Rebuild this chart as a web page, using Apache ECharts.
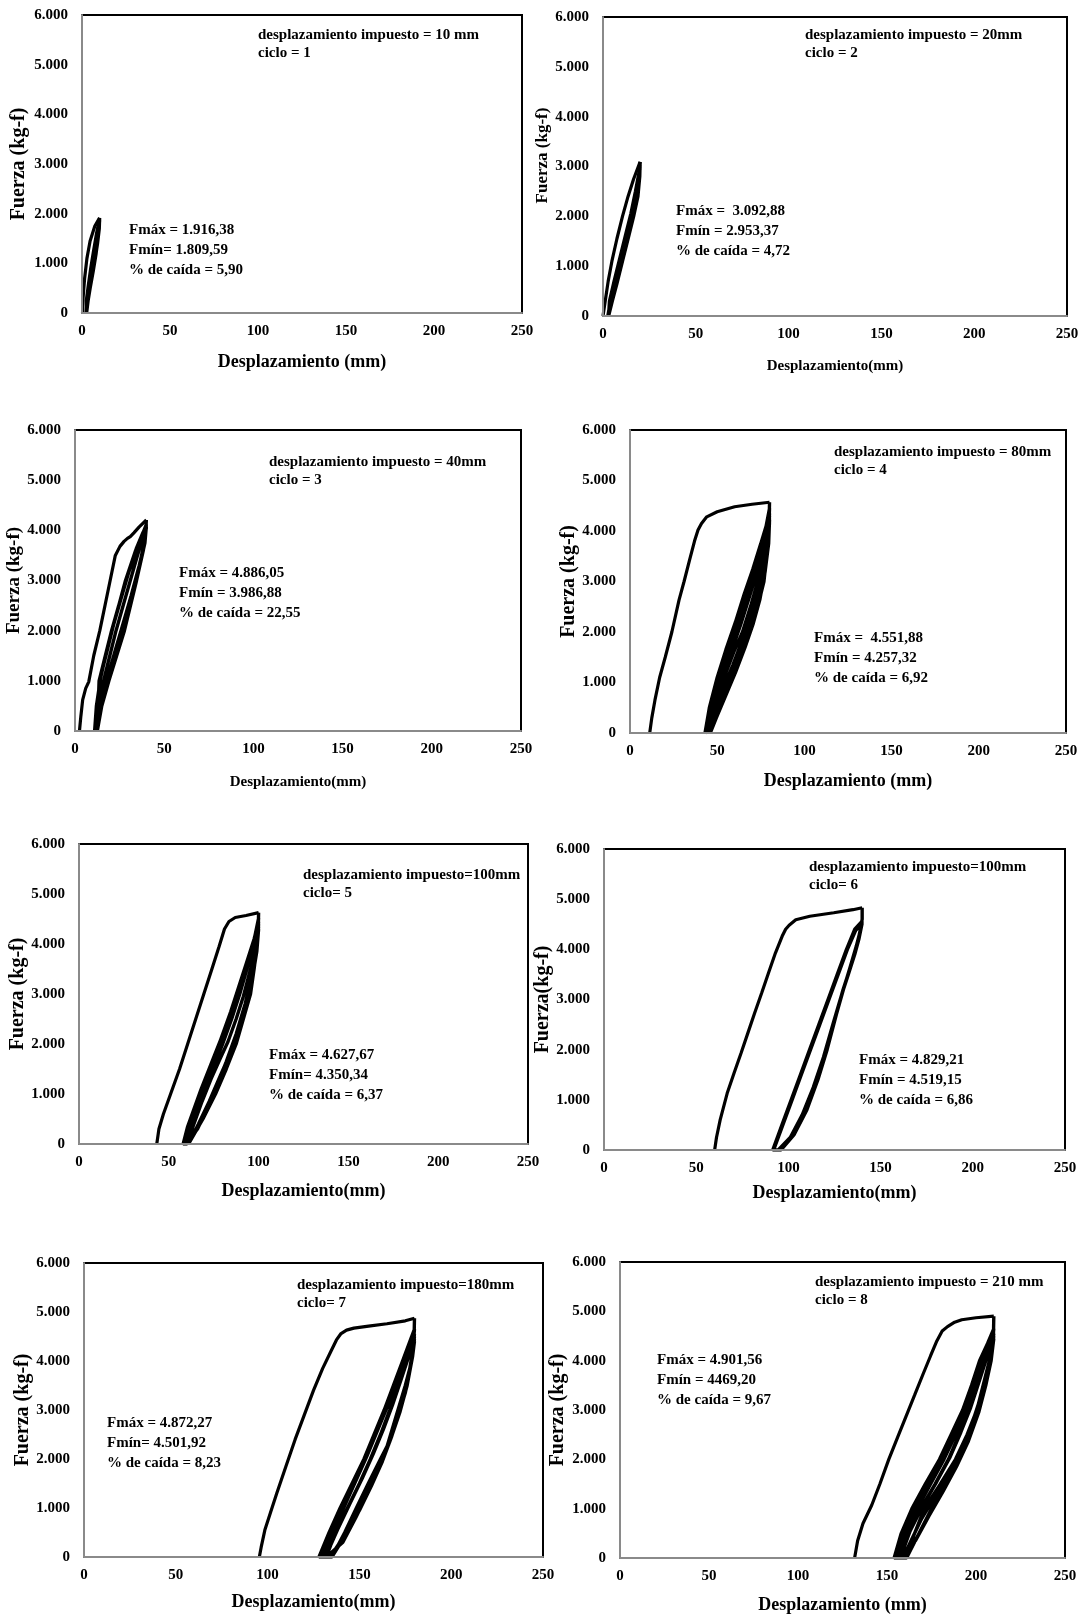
<!DOCTYPE html>
<html>
<head>
<meta charset="utf-8">
<script src="https://cdn.jsdelivr.net/npm/echarts@6/dist/echarts.min.js"></script>
<style>
html,body{margin:0;padding:0;background:#fff;}
#chart{width:1082px;height:1615px;}
</style>
</head>
<body>
<div id="chart"></div>
<script>
// ---------- Data (displacement mm, force kg-f) ----------
const xTickLabels = ['0','50','100','150','200','250'];
const yTickLabels = ['0','1.000','2.000','3.000','4.000','5.000','6.000'];

const xNames = ['Desplazamiento (mm)','Desplazamiento(mm)','Desplazamiento(mm)','Desplazamiento (mm)',
                'Desplazamiento(mm)','Desplazamiento(mm)','Desplazamiento(mm)','Desplazamiento (mm)'];
const yNames = ['Fuerza (kg-f)','Fuerza (kg-f)','Fuerza (kg-f)','Fuerza (kg-f)',
                'Fuerza (kg-f)','Fuerza(kg-f)','Fuerza (kg-f)','Fuerza (kg-f)'];

const headerNotes = [
  'desplazamiento impuesto = 10 mm\nciclo = 1',
  'desplazamiento impuesto = 20mm\nciclo = 2',
  'desplazamiento impuesto = 40mm\nciclo = 3',
  'desplazamiento impuesto = 80mm\nciclo = 4',
  'desplazamiento impuesto=100mm\nciclo= 5',
  'desplazamiento impuesto=100mm\nciclo= 6',
  'desplazamiento impuesto=180mm\nciclo= 7',
  'desplazamiento impuesto = 210 mm\nciclo = 8'
];
const forceNotes = [
  'Fmáx = 1.916,38\nFmín= 1.809,59\n% de caída = 5,90',
  'Fmáx =  3.092,88\nFmín = 2.953,37\n% de caída = 4,72',
  'Fmáx = 4.886,05\nFmín = 3.986,88\n% de caída = 22,55',
  'Fmáx =  4.551,88\nFmín = 4.257,32\n% de caída = 6,92',
  'Fmáx = 4.627,67\nFmín= 4.350,34\n% de caída = 6,37',
  'Fmáx = 4.829,21\nFmín = 4.519,15\n% de caída = 6,86',
  'Fmáx = 4.872,27\nFmín= 4.501,92\n% de caída = 8,23',
  'Fmáx = 4.901,56\nFmín = 4469,20\n% de caída = 9,67'
];

// Cycle 1 (10 mm)
const c1Envelope = [[0.3,0],[0.6,300],[1.5,700],[2.8,1100],[4.6,1450],[7.3,1750],[10,1916]];
const c1Loops = [[10,1916],[9.8,1700],[8.8,1400],[7.3,1050],[5.5,700],[3.8,350],[2.6,0],
  [1.8,0],[2.5,250],[3.6,550],[5,900],[6.6,1250],[8.3,1600],[9.6,1830],[10,1880],
  [9.6,1650],[8.5,1350],[7,1000],[5.2,650],[3.5,300],[2.3,0],
  [2,0],[3,350],[4.3,700],[5.8,1050],[7.5,1400],[9,1700],[10,1860],
  [9.3,1550],[8,1200],[6.4,850],[4.6,500],[3,150],[2.2,0]];

// Cycle 2 (20 mm)
const c2Envelope = [[0,0],[1.2,300],[2.8,700],[4.8,1100],[7.5,1550],[10.5,2000],[13.5,2400],[16.5,2750],[20,3093]];
const c2Loops = [[20,3093],[19.8,2800],[18.8,2400],[16.5,2000],[13.5,1550],[10.5,1100],[7.5,650],[5,300],[3,0],
  [2,0],[3.5,300],[6,700],[9,1150],[12,1600],[15,2050],[17.5,2500],[19.5,2900],[20,3030],
  [19.5,2750],[18.3,2350],[16,1950],[13,1500],[10,1050],[7,600],[4.5,250],[2.8,0],
  [2.2,0],[4,350],[6.5,750],[9.5,1200],[12.5,1650],[15.5,2100],[18,2550],[19.7,2950],[20,3000],
  [19.3,2700],[17.8,2300],[15.5,1900],[12.5,1450],[9.5,1000],[6.5,550],[4.2,200],[2.6,0],
  [2.4,0],[4.5,400],[7,800],[10,1250],[13,1700],[16,2150],[18.5,2600],[20,2960]];

// Cycle 3 (40 mm)
const c3Envelope = [[2.5,0],[3.3,300],[4.3,620],[6,850],[7.7,980],[10.5,1500],[13.9,2000],[16.8,2500],
  [19.7,3000],[22.6,3500],[25.2,3680],[27.5,3780],[29.4,3840],[31,3875],[33,3950],[36,4070],[40,4206]];
const c3Loops = [[40,4206],[39.5,3900],[38.3,3600],[34.5,3000],[27.7,2000],[19,1000],[15,500],[12.5,0],
  [12.8,300],[13.5,1000],[17,1500],[20.5,2000],[24.5,2500],[28.3,3000],[34,3600],[37,3850],[40,4120],
  [39,3800],[37.5,3500],[33.5,2900],[27,1950],[22,1400],[18.5,950],[14.5,450],[12,0],
  [12.6,400],[14,1000],[17.5,1550],[21,2050],[25,2550],[29,3050],[33.5,3500],[37.5,3900],[40,4080],
  [39.2,3750],[37,3400],[32.5,2800],[26.5,1900],[21,1300],[17.5,850],[14,400],[11,0],
  [12,500],[14.5,1100],[18,1600],[21.5,2100],[25.5,2600],[30,3150],[34.5,3650],[38,3950],[40,4050],
  [38.5,3700],[35.5,3200],[31,2600],[26,2000],[21,1400],[17,900],[14,450],[12,0],
  [13.5,500],[16,1000],[19.5,1500],[23,2000],[27,2500],[31,3000],[35,3500],[38.5,3900],[40,4060],
  [39,3750],[36,3300],[31.5,2700],[27,2150],[22.5,1600],[18.5,1100],[15,600],[12.5,150],[11.5,0]];

// Cycle 4 (80 mm)
const c4Envelope = [[11.3,0],[12.5,300],[14.3,650],[17,1100],[20.2,1500],[24,2000],[28.1,2630],[31,3000],
  [34.1,3420],[37,3800],[39,4020],[41,4150],[44,4280],[50,4380],[60,4480],[70,4530],[80,4570]];
const c4Loops = [[80,4570],[79.8,4200],[79,3700],[76.8,3000],[72.5,2400],[68.5,2000],[62,1500],[55,1000],[49.5,500],[45,0],
  [46,300],[49.5,1000],[54.5,1500],[60,2000],[64.5,2500],[69,3000],[73.5,3500],[77.5,4000],[80,4450],
  [79.5,4000],[78,3400],[75,2800],[70.5,2250],[65.5,1800],[59.5,1300],[53.5,800],[48,300],[44,0],
  [46.5,500],[51,1100],[56,1600],[61,2100],[65.5,2600],[70,3100],[74.5,3600],[78.5,4100],[80,4350],
  [79,3800],[77,3200],[73.5,2600],[68.5,2050],[63,1550],[57,1050],[51,550],[46,100],[43,0],
  [45.5,500],[50,1100],[55,1650],[60.5,2200],[65.5,2750],[70.5,3250],[75,3750],[78.5,4150],[80,4300],
  [78.5,3700],[76,3100],[72,2500],[67,1950],[61.5,1450],[55.5,950],[49.5,450],[44,0],
  [44.5,0],[47,500],[51.5,1050],[57,1600],[62.5,2100],[67.5,2650],[72,3150],[76,3650],[79,4100],[80,4250],
  [79,3900],[76.5,3350],[73,2800],[69,2300],[64.5,1850],[59,1350],[53,850],[48,400],[44.5,0],
  [45,0],[48.5,550],[53,1100],[58.5,1650],[63.5,2150],[68.5,2700],[73,3200],[76.5,3700],[79.5,4150],[80,4220],
  [79.5,3750],[77.5,3200],[74.5,2650],[70.5,2150],[66,1700],[60.5,1200],[55,750],[49.5,300],[46,0],
  [45.5,0],[49,550],[54,1100],[59.5,1600],[64.5,2000],[69.5,2550],[74,3100],[77.5,3600],[80,4150]];

// Cycle 5 (100 mm)
const c5Envelope = [[43.3,0],[44.5,300],[47,600],[51,1000],[56,1500],[60.5,2000],[65,2500],[69.5,3000],
  [74,3500],[78,3950],[81,4300],[83.5,4450],[87,4530],[93,4570],[100,4628]];
const c5Loops = [[100,4628],[99.8,4300],[99.3,4000],[97.5,3500],[95.5,3000],[91.5,2500],[87.5,2000],[82,1500],[76,1000],[69,500],[61,0],
  [62.5,300],[65.5,600],[69,1000],[74.5,1500],[80,2000],[85,2500],[89.5,3000],[93.5,3500],[97,4000],[100,4520],
  [99.3,4100],[97.8,3700],[95,3100],[91,2550],[86.5,2000],[81,1500],[75,1000],[68.5,500],[60,0],
  [58,0],[60.5,350],[64,700],[68,1100],[73.5,1600],[79,2100],[84.5,2650],[89,3150],[93.5,3650],[97.5,4100],[100,4450],
  [99,4000],[97,3500],[94,2950],[90,2400],[85,1850],[79.5,1350],[73.5,850],[66.5,350],[59,0],
  [61.5,350],[65,750],[69.5,1200],[75,1700],[80.5,2250],[85.5,2750],[90,3250],[94.5,3750],[98,4150],[100,4400],
  [99,3950],[97,3450],[93.5,2900],[89,2350],[84,1800],[78.5,1300],[72.5,800],[66,300],[59.5,0],
  [60,0],[63,400],[67,850],[72,1350],[77.5,1850],[83,2400],[88,2950],[92.5,3450],[96.5,3950],[100,4350],
  [98.8,3900],[96.5,3400],[92.5,2800],[87.5,2200],[82,1650],[76,1100],[69.5,600],[63,150],[60,0],
  [60.5,0],[64,400],[68.5,850],[73.5,1300],[78.5,1700],[83,2050],[87.5,2500],[91.5,2950],[95.5,3500],[98.5,4000],[100,4300],
  [99,3850],[96.5,3300],[93,2750],[89,2250],[84,1800],[78.5,1350],[72.5,850],[66.5,400],[61,0]];

// Cycle 6 (140 mm)
const c6Envelope = [[60,0],[61,250],[63,600],[66.8,1130],[70.5,1530],[74.3,1930],[78,2330],[81.7,2730],[85.5,3130],
  [89.2,3530],[93,3930],[96.6,4260],[98.5,4400],[100.4,4480],[104,4590],[111.6,4660],[124.6,4730],[135,4790],[140,4829]];
const c6Loops = [[140,4829],[140,4600],[138.5,4300],[136.8,4060],[133.5,3650],[130.3,3260],[126,2700],[121,2000],[116,1400],[110,800],[103,300],[96,0],
  [91.5,0],[96.5,500],[101.5,1000],[106.5,1500],[111.5,2000],[116.5,2500],[121.5,3000],[126.5,3500],[131.5,4000],[136,4400],[140,4560],
  [138.5,4250],[136.5,3980],[133,3580],[129.5,3180],[125.5,2650],[120,1950],[115,1350],[109,780],[102,280],[95,0],
  [92,0],[97,500],[102,1000],[107,1500],[112,2000],[117,2500],[122,3000],[127,3500],[132,4000],[136.5,4380],[140,4520],
  [138.2,4200],[136,3900],[132.5,3500],[128.5,3050],[124.5,2550],[119,1850],[113.5,1250],[107.5,700],[101,250],[94.5,0]];

// Cycle 7 (180 mm)
const c7Envelope = [[95.5,0],[96.5,200],[98.5,550],[101.5,900],[105,1300],[110,1850],[115,2400],[120,2900],[125,3400],
  [130,3850],[134.5,4200],[137.5,4430],[140,4560],[143,4630],[147,4670],[155,4710],[165,4760],[175,4820],[180,4872]];
const c7Loops = [[180,4872],[179.8,4500],[178.5,4000],[175,3500],[171,3000],[167,2500],[163,2000],[157,1500],[150,1000],[143,500],[134,0],
  [128,0],[133.5,500],[139.5,1000],[146,1500],[152.5,2000],[158,2500],[163.5,3000],[168.5,3500],[173.5,4000],[178,4450],[180,4650],
  [179,4200],[177,3750],[173,3200],[169,2700],[164.5,2200],[159,1700],[152.5,1200],[145.5,700],[138,200],[133,0],
  [129,0],[134.5,500],[140.5,1000],[147,1500],[153,2000],[158.5,2500],[164,3000],[169,3500],[174,4000],[178.5,4400],[180,4550],
  [178.5,4050],[176,3550],[172,3000],[167.5,2450],[162.5,1950],[156.5,1450],[150,950],[142.5,450],[135,0],
  [130,0],[136,550],[142,1050],[148,1550],[154,2050],[159.5,2550],[165,3050],[170,3550],[174.5,4000],[178.5,4380],[180,4500],
  [178,3900],[175,3350],[171,2850],[166,2300],[160.5,1800],[154.5,1300],[148,800],[141,300],[132,0],
  [131,0],[137,500],[143.5,1000],[150,1500],[156,2000],[161.5,2500],[166.5,3000],[171,3500],[175.5,4000],[179,4350],[180,4450],
  [178.5,4000],[175.5,3450],[171.5,2900],[166.5,2350],[161,1850],[155,1350],[148.5,850],[141.5,350],[133,0],
  [131.5,0],[138,550],[145,1100],[151.5,1600],[157.5,2100],[163,2600],[168,3100],[172.5,3600],[176.5,4050],[180,4400],
  [179,4100],[176,3500],[172,2950],[167,2400],[161.5,2000],[155.5,1550],[149,1050],[142,500],[135,0]];

// Cycle 8 (210 mm)
const c8Envelope = [[131.8,0],[133.5,350],[136.5,700],[141.4,1070],[146,1500],[151,2000],[156,2450],[160.7,2870],
  [165.5,3300],[170.4,3740],[174.5,4100],[178,4400],[181,4600],[184,4690],[188,4780],[192,4830],[200,4870],[210,4902]];
const c8Loops = [[210,4902],[209.8,4500],[207.5,4000],[204,3500],[200.5,3000],[195,2500],[188.5,2000],[180,1500],[171,1000],[165.5,500],[160,0],
  [154,0],[158,500],[164,1000],[171.5,1500],[179.5,2000],[186,2500],[192.5,3000],[197.5,3500],[202,4000],[206.5,4350],[210,4650],
  [209,4250],[206.5,3800],[202.5,3250],[198,2750],[192,2250],[185,1750],[177,1250],[169.5,800],[163.5,350],[159,0],
  [155,0],[159.5,500],[165.5,1000],[173,1500],[181,2000],[187.5,2500],[193.5,3000],[198.5,3500],[203,4000],[207.5,4350],[210,4550],
  [208.5,4100],[205.5,3600],[201.5,3050],[196.5,2500],[190.5,2000],[183,1500],[175,1000],[168,500],[161,0],
  [156,0],[160.5,500],[167,1000],[174.5,1500],[182,2000],[188.5,2500],[194.5,3000],[199.5,3500],[204,4000],[208,4350],[210,4500],
  [208,3950],[205,3450],[201,2900],[195.5,2350],[189,1850],[181.5,1350],[173.5,850],[166,350],[158,0],
  [157,0],[162,500],[169,1000],[177,1500],[184.5,2000],[190.5,2500],[196,3000],[200.5,3500],[205,4000],[208.5,4300],[210,4450],
  [208.5,4000],[205.5,3500],[201.5,2950],[196,2400],[189.5,1900],[182,1400],[174,900],[166.5,400],[159.5,0],
  [157.5,0],[163,550],[170,1050],[178,1550],[185.5,2050],[191.5,2550],[197,3050],[201.5,3550],[205.5,4000],[209,4330],[210,4420]];

const envelopes = [c1Envelope,c2Envelope,c3Envelope,c4Envelope,c5Envelope,c6Envelope,c7Envelope,c8Envelope];
const loops = [c1Loops,c2Loops,c3Loops,c4Loops,c5Loops,c6Loops,c7Loops,c8Loops];

// ---------- Layout ----------
const FONT = '"Liberation Serif", "Times New Roman", serif';
const grids = [
  {left:82, top:15,  width:440, height:298},
  {left:603,top:17,  width:464, height:299},
  {left:75, top:430, width:446, height:301},
  {left:630,top:430, width:436, height:303},
  {left:79, top:844, width:449, height:300},
  {left:604,top:849, width:461, height:301},
  {left:84, top:1263,width:459, height:294},
  {left:620,top:1262,width:445, height:298}
];
const xNameGap  = [40, 43, 44, 39, 38, 34, 36, 38];
const xNameSize = [18, 15, 15, 18, 18, 18, 18, 18];
const yNameGap  = [53, 51, 48, 51, 50, 50, 50, 52];
const yNameSize = [20, 17, 19, 20, 20, 20, 20, 20];
const yNamePad  = [[0,0,0,0],[0,0,0,22],[0,0,0,0],[0,0,0,0],[0,0,0,0],[0,0,0,0],[0,0,0,0],[0,0,0,0]];
const headerPos = [[258,26],[805,26],[269,453],[834,443],[303,866],[809,858],[297,1276],[815,1273]];
const forcePos  = [[129,220],[676,201],[179,563],[814,628],[269,1045],[859,1050],[107,1413],[657,1350]];

const option = {
  animation: false,
  backgroundColor: '#fff',
  grid: grids.map(g => Object.assign({show:true, borderColor:'#000', borderWidth:2, backgroundColor:'#fff', containLabel:false}, g)),
  xAxis: grids.map((g,i) => ({
    gridIndex:i, type:'value', min:0, max:250, interval:50, z:5,
    name: xNames[i], nameLocation:'middle', nameGap: xNameGap[i],
    nameTextStyle:{fontFamily:FONT, fontWeight:'bold', fontSize:xNameSize[i], color:'#000'},
    axisLine:{show:true, onZero:false, lineStyle:{color:'#8a8a8a', width:2}},
    axisTick:{show:false}, splitLine:{show:false},
    axisLabel:{margin:11, color:'#000', fontFamily:FONT, fontWeight:'bold', fontSize:15,
      formatter: v => xTickLabels[Math.round(v/50)]}
  })),
  yAxis: grids.map((g,i) => ({
    gridIndex:i, type:'value', min:0, max:6000, interval:1000, z:5,
    name: yNames[i], nameLocation:'middle', nameGap: yNameGap[i], nameRotate:90,
    nameTextStyle:{fontFamily:FONT, fontWeight:'bold', fontSize:yNameSize[i], color:'#000', padding:yNamePad[i]},
    axisLine:{show:true, onZero:false, lineStyle:{color:'#8a8a8a', width:2}},
    axisTick:{show:false}, splitLine:{show:false},
    axisLabel:{margin:14, color:'#000', fontFamily:FONT, fontWeight:'bold', fontSize:15,
      formatter: v => yTickLabels[Math.round(v/1000)]}
  })),
  series: [].concat(...grids.map((g,i) => [
    {type:'line', xAxisIndex:i, yAxisIndex:i, data:envelopes[i], showSymbol:false, symbol:'none',
     lineStyle:{color:'#000', width:3.2}, z:3},
    {type:'line', xAxisIndex:i, yAxisIndex:i, data:loops[i], showSymbol:false, symbol:'none',
     lineStyle:{color:'#000', width:3.4}, z:3}
  ])),
  graphic: [].concat(...grids.map((g,i) => [
    {type:'text', left:headerPos[i][0], top:headerPos[i][1], z:10,
     style:{text:headerNotes[i], fill:'#000', font:'bold 15px ' + FONT, lineHeight:18}},
    {type:'text', left:forcePos[i][0], top:forcePos[i][1], z:10,
     style:{text:forceNotes[i], fill:'#000', font:'bold 15px ' + FONT, lineHeight:20}}
  ]))
};

const chart = echarts.init(document.getElementById('chart'), null, {renderer:'canvas'});
chart.setOption(option);
</script>
</body>
</html>
